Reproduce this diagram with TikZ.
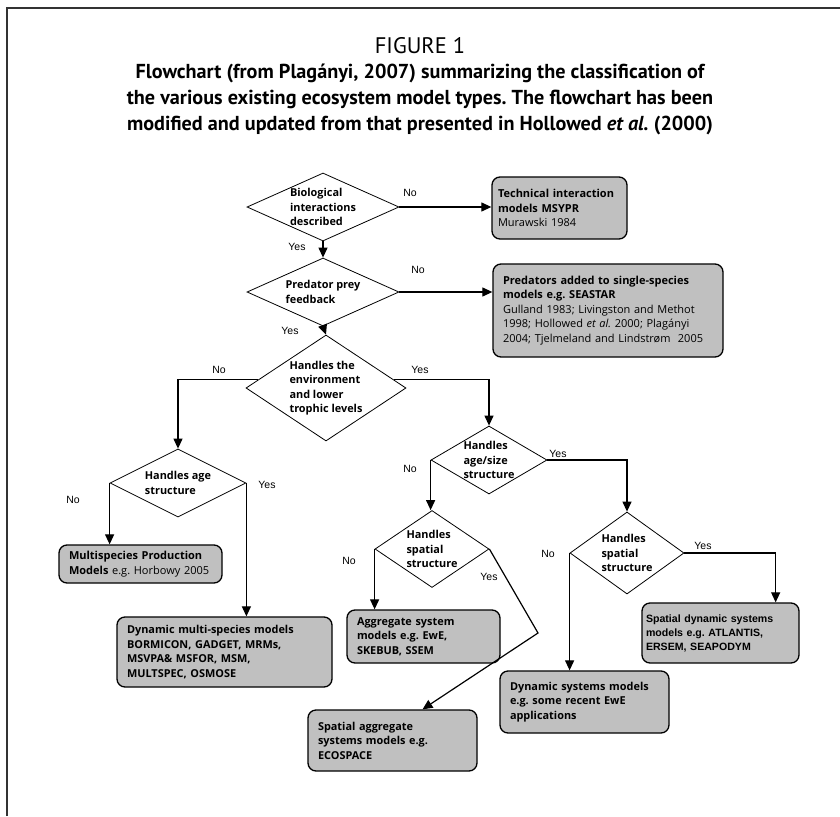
\documentclass[tikz,border=0pt]{standalone}
\usepackage{fontspec}
\setmainfont{Open Sans}
\newfontfamily\titlefont{PT Sans}
\newfontfamily\arialfont{Liberation Sans}
\usetikzlibrary{arrows.meta,positioning,shapes.geometric}
\frenchspacing

\definecolor{boxgray}{RGB}{192,192,192}
\tikzset{
  decision/.style={draw, line width=0.8pt, shape=diamond, inner sep=-2pt, align=left,
    font=\bfseries\fontsize{10.9}{14.5}\selectfont},
  outcome/.style={draw, line width=1.3pt, rounded corners=8pt, fill=boxgray, align=left,
    inner xsep=10pt, inner ysep=0pt, font=\fontsize{11}{14.5}\selectfont},
  boldout/.style={outcome, font=\bfseries\fontsize{10.9}{14.5}\selectfont},
  link/.style={line width=1.2pt, -{Triangle[length=10pt,width=9pt]}},
  answer/.style={font=\arialfont\fontsize{10.5}{12}\selectfont, inner sep=0pt},
}

\begin{document}
\begin{tikzpicture}[x=1pt,y=-1pt]
  \useasboundingbox (0,0) rectangle (840,816);
  \draw[line width=1.3pt, black!80] (7,816) -- (7,8) -- (840,8);

  \node[font=\titlefont\fontsize{22.5}{24}\selectfont] (fig) at (420,46) {FIGURE 1};
  \node[font=\titlefont\bfseries\fontsize{20.2}{26}\selectfont, align=center] (caption) at (420,99)
    {Flowchart (from Plagányi, 2007) summarizing the classification of\\
     the various existing ecosystem model types. The flowchart has been\\
     modified and updated from that presented in Hollowed \textit{et al.} (2000)};

  % decisions
  \node[decision, aspect=2.24, minimum width=152, minimum height=68] (bio) at (323,207)
    {Biological\\interactions\\described};
  \node[decision, aspect=2.24, minimum width=152, minimum height=68] (pred) at (323,292)
    {Predator prey\\feedback};
  \node[decision, aspect=1.51, minimum width=160, minimum height=106] (env) at (326,388)
    {Handles the\\environment\\and lower\\trophic levels};
  \node[decision, aspect=2, minimum width=136, minimum height=68] (age) at (178,483)
    {Handles age\\structure};
  \node[decision, aspect=1.7, minimum width=116, minimum height=68] (size) at (489,460)
    {Handles\\age/size\\structure};
  \node[decision, aspect=1.48, minimum width=114, minimum height=77] (spaA) at (432,549)
    {Handles\\spatial\\structure};
  \node[decision, aspect=1.39, minimum width=114, minimum height=82] (spaB) at (627,553)
    {Handles\\spatial\\structure};

  % outcomes
  \node[outcome, text width=123, inner xsep=6pt, minimum height=62] (tech) at (559.5,208)
    {\textbf{Technical interaction}\\\textbf{models MSYPR}\\Murawski 1984};
  \node[outcome, text width=210, minimum height=93] (added) at (608,310.5)
    {\textbf{Predators added to single-species}\\\textbf{models e.g. SEASTAR}\\
     Gulland 1983; Livingston and Methot\\
     1998; Hollowed \textit{et al.} 2000; Plagányi\\
     2004; Tjelmeland and Lindstrøm\ \ 2005};
  \node[outcome, text width=143, minimum height=38] (prod) at (140.5,564)
    {\textbf{Multispecies Production}\\\textbf{Models} e.g. Horbowy 2005};
  \node[boldout, text width=195, minimum height=70] (multi) at (224.5,652)
    {Dynamic multi-species models\\BORMICON, GADGET, MRMs,\\MSVPA\& MSFOR, MSM,\\MULTSPEC, OSMOSE};
  \node[boldout, text width=133, minimum height=53] (aggr) at (423.5,636.5)
    {Aggregate system\\models e.g. EwE,\\SKEBUB, SSEM};
  \node[boldout, text width=149, minimum height=61] (saggr) at (392.5,740.5)
    {Spatial aggregate\\systems models e.g.\\ECOSPACE};
  \node[outcome, text width=149, inner xsep=4pt, minimum height=60, font=\arialfont\bfseries\fontsize{10.6}{14}\selectfont] (sdyn) at (720.5,633)
    {Spatial dynamic systems\\models e.g. ATLANTIS,\\ERSEM, SEAPODYM};
  \node[boldout, text width=149, minimum height=62] (dyn) at (584.5,702)
    {Dynamic systems models\\e.g. some recent EwE\\applications};

  % connectors
  \draw[link] (bio.east) -- (bio.east -| tech.west);
  \draw[link] (bio.south) -- (pred.north);
  \draw[link] (pred.east) -- (pred.east -| added.west);
  \draw[link] (pred.south) -- (env.north);
  \draw[link] (env.173) -| (age.north);
  \draw[link] (env.7) -| (size.north);
  \draw[link] (age.west) -- (age.west |- prod.north);
  \draw[link] (age.east) -- (age.east |- multi.north);
  \draw[link] (size.west) -- (size.west |- spaA.north);
  \draw[link] (size.east) -| (spaB.north);
  \draw[link] (spaA.west) -- (spaA.west |- aggr.north);
  \coordinate (kink) at (538,633);
  \draw[link] (spaA.east) -- (kink) -- ([xshift=30pt]saggr.north);
  \draw[link] (spaB.west) -- (spaB.west |- dyn.north);
  \draw[link] (spaB.east) -| ([xshift=-24pt]sdyn.north east);

  % yes / no
  \foreach \x/\y/\txt [count=\i] in {
    410/193/No, 297/247/Yes, 418/270/No, 290/331/Yes,
    219/370/No, 420/370/Yes, 73/500/No, 267/485/Yes,
    410/469/No, 558/454/Yes, 349/561/No, 489/577/Yes,
    548/554/No, 703/546/Yes
  } {
    \node[answer] (ans\i) at (\x,\y) {\txt};
  }
\end{tikzpicture}
\end{document}
